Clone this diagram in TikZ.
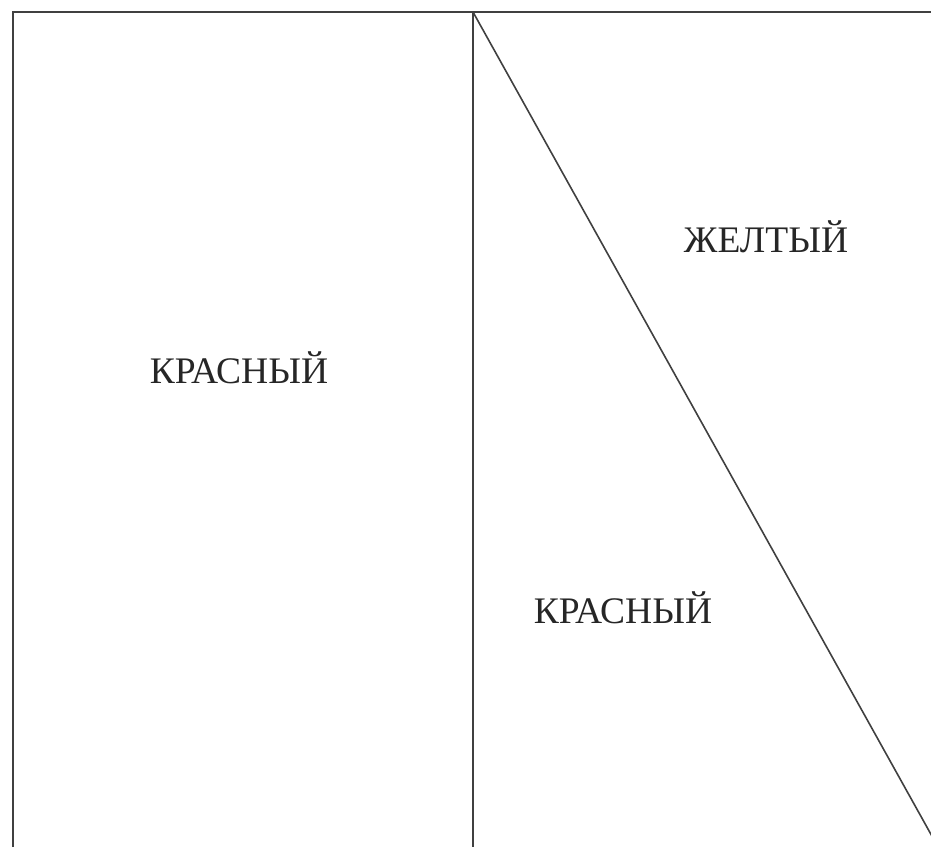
\documentclass[tikz,border=0pt]{standalone}
\usepackage{fontspec}
\setmainfont{Liberation Serif}
\begin{document}
\begin{tikzpicture}[x=1pt,y=-1pt,
  edge/.style={draw=black!75,line width=1.6pt},
  lbl/.style={font=\fontsize{37.5}{42}\selectfont,text=black!85,inner sep=0pt}]
\useasboundingbox (0,0) rectangle (931,847);
\coordinate (tl) at (13,12);
\coordinate (tr) at (931,12);
\coordinate (bl) at (13,847);
\coordinate (tm) at (473,12);
\coordinate (bm) at (473,847);
\coordinate (br) at (933,838);
\draw[edge] (bl) -- (tl) -- (tr);
\draw[edge] (tm) -- (bm);
\draw[edge] (tm) -- (br);
\node[lbl] (a) at (239,368) {КРАСНЫЙ};
\node[lbl] (b) at (766,237) {ЖЕЛТЫЙ};
\node[lbl] (c) at (623,608) {КРАСНЫЙ};
\end{tikzpicture}
\end{document}
